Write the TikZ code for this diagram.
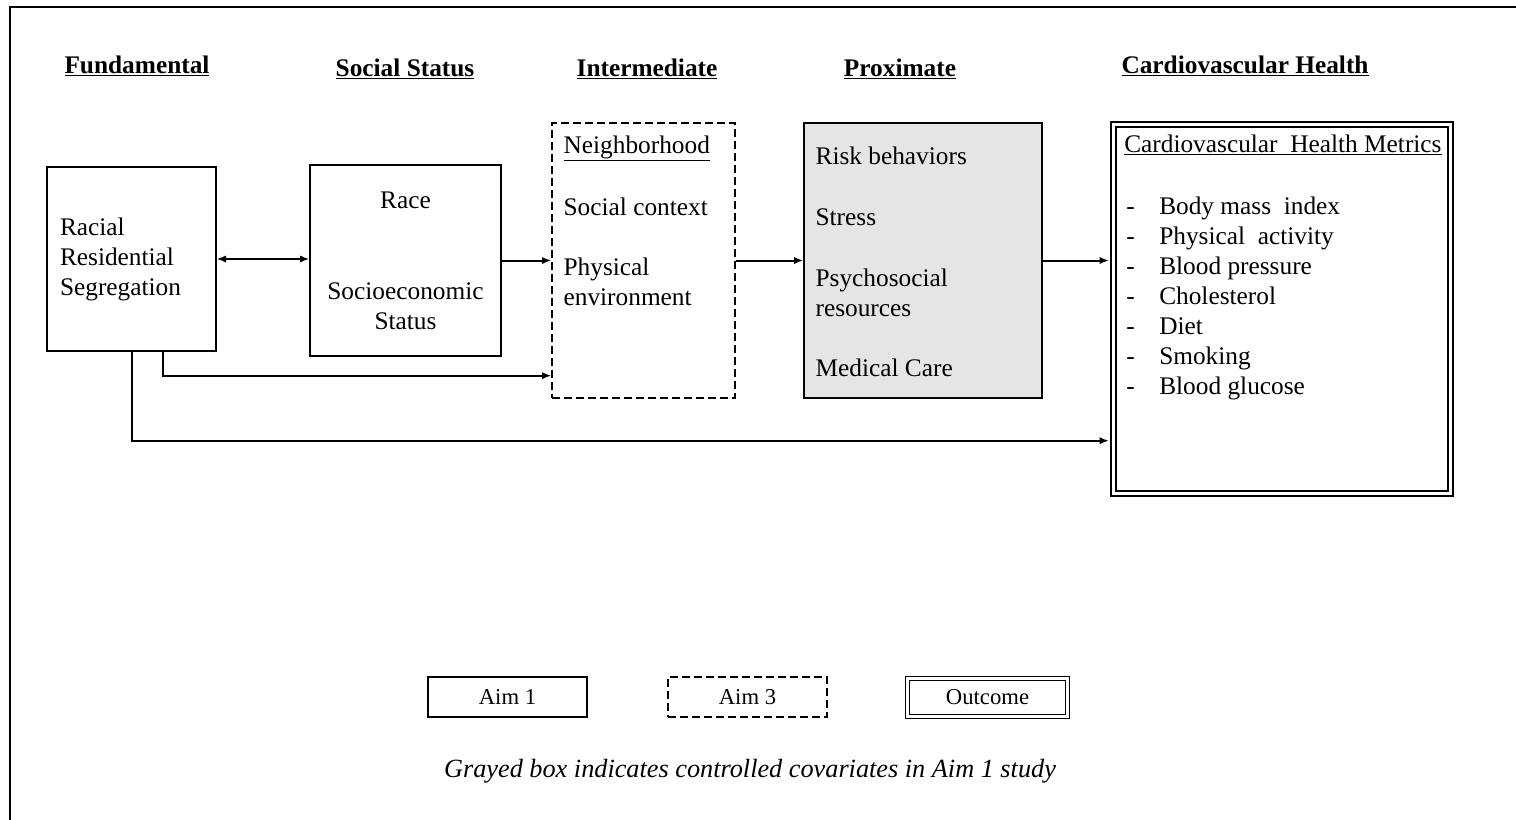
\documentclass[tikz,border=0pt]{standalone}
\usepackage{fontspec}
\setmainfont{Liberation Serif}
\usepackage{tikz}
\usetikzlibrary{arrows.meta}
\usetikzlibrary{positioning}
\tikzset{box/.style={draw,line width=1pt,inner sep=0pt},
	dash box/.style={box,dash pattern=on 6pt off 3pt},
	grey box/.style={box,fill={gray!20}},
	outcome box/.style={draw,double,double distance=2.2pt,line width=1.6pt,inner sep=0pt},
	heading/.style={font=\bfseries\fontsize{19}{22.5}\selectfont,anchor=base,inner sep=0pt},
	box text/.style={align=left,inner sep=0pt,anchor=north west},
	link/.style={-{Latex[length=7pt,width=5.5pt]},line width=1.5pt},
	both link/.style={{Latex[length=7pt,width=5.5pt]}-{Latex[length=7pt,width=5.5pt]},line width=1.5pt}}

\begin{document}
\begin{tikzpicture}[x=0.75pt,y=-0.75pt,every node/.style={font=\fontsize{19}{22.5}\selectfont}]
	\useasboundingbox (0,0) rectangle (1516,819);
	\draw[line width=2.2pt] (10,840) -- (10,7) -- (1540,7);
	
	% column headings
	\node[heading] (h_{1}) at (137,73) {\underline{Fundamental}};
	\node[heading] (h_{2}) at (405,76) {\underline{Social Status}};
	\node[heading] (h_{3}) at (647,76) {\underline{Intermediate}};
	\node[heading] (h_{4}) at (900,76) {\underline{Proximate}};
	\node[heading] (h_{5}) at (1245,73) {\underline{Cardiovascular Health}};
	
	% boxes
	\node[box,minimum width=126.75pt,minimum height=138pt,text width=107.25pt,align=left] (rrs) at (131.5,259) {Racial\\Residential\\Segregation};
	\node[box,minimum width=143.25pt,minimum height=143.25pt,text width=130pt,align=center] (soc) at (405.5,260.5) {Race\\[45.75pt]Socioeconomic\\Status};
	\node[dash box,minimum width=137.25pt,minimum height=206.25pt] (nbh) at (643.5,260.5) {};
	\node[box text] (nbh_t) at ([xshift=9pt,yshift=-9.75pt]nbh.north west) {\underline{Neighborhood}\\[24pt]Social context\\[22.5pt]Physical\\environment};
	\node[grey box,minimum width=178.5pt,minimum height=206.25pt] (prox) at (923,260.5) {};
	\node[box text] (prox_t) at ([xshift=9pt,yshift=-18pt]prox.north west) {Risk behaviors\\[23.25pt]Stress\\[23.25pt]Psychosocial\\resources\\[22.5pt]Medical Care};
	\node[outcome box,minimum width=252.6pt,minimum height=276.6pt] (cvh) at (1282,308.7) {};
	\node[box text] (cvh_t) at ([xshift=8.6pt,yshift=-8.5pt]cvh.north west) {\underline{Cardiovascular\ \ Health Metrics}\\[24pt]
		\hspace*{1.5pt}\makebox[24.75pt][l]{-}Body mass\ \ index\\
		\hspace*{1.5pt}\makebox[24.75pt][l]{-}Physical\ \ activity\\
		\hspace*{1.5pt}\makebox[24.75pt][l]{-}Blood pressure\\
		\hspace*{1.5pt}\makebox[24.75pt][l]{-}Cholesterol\\
		\hspace*{1.5pt}\makebox[24.75pt][l]{-}Diet\\
		\hspace*{1.5pt}\makebox[24.75pt][l]{-}Smoking\\
		\hspace*{1.5pt}\makebox[24.75pt][l]{-}Blood glucose};
	
	% connectors
	\draw[both link] (rrs.east) -- (rrs.east -| soc.west);
	\draw[link] (soc.east) -- (soc.east -| nbh.west);
	\draw[link] (nbh.east) -- (prox.west);
	\draw[link,shorten >=2.7pt] (prox.east) -- (prox.east -| cvh.west);
	\draw[link] ([xshift=23.85pt]rrs.south) |- ([yshift=17.25pt]nbh.south west);
	\draw[link,shorten >=2.7pt] (rrs.south) |- ([yshift=40.1pt]cvh.south west);
	
	% legend
	\node[box,minimum width=119.25pt,minimum height=30pt,font=\fontsize{17}{20}\selectfont] (aim_{1}) at (507.5,697) {Aim 1};
	\node[dash box,minimum width=119.25pt,minimum height=30pt,font=\fontsize{17}{20}\selectfont] (aim_{3}) at (747.5,697) {Aim 3};
	\node[outcome box,double distance=1.6pt,line width=0.9pt,minimum width=120pt,minimum height=28.5pt,font=\fontsize{17}{20}\selectfont] (out) at (987.5,697.5) {Outcome};
	\node[anchor=base,inner sep=0pt,font=\itshape\fontsize{19.7}{23}\selectfont] (note) at (750,777) {Grayed box indicates controlled covariates in Aim 1 study};
\end{tikzpicture}
\end{document}
